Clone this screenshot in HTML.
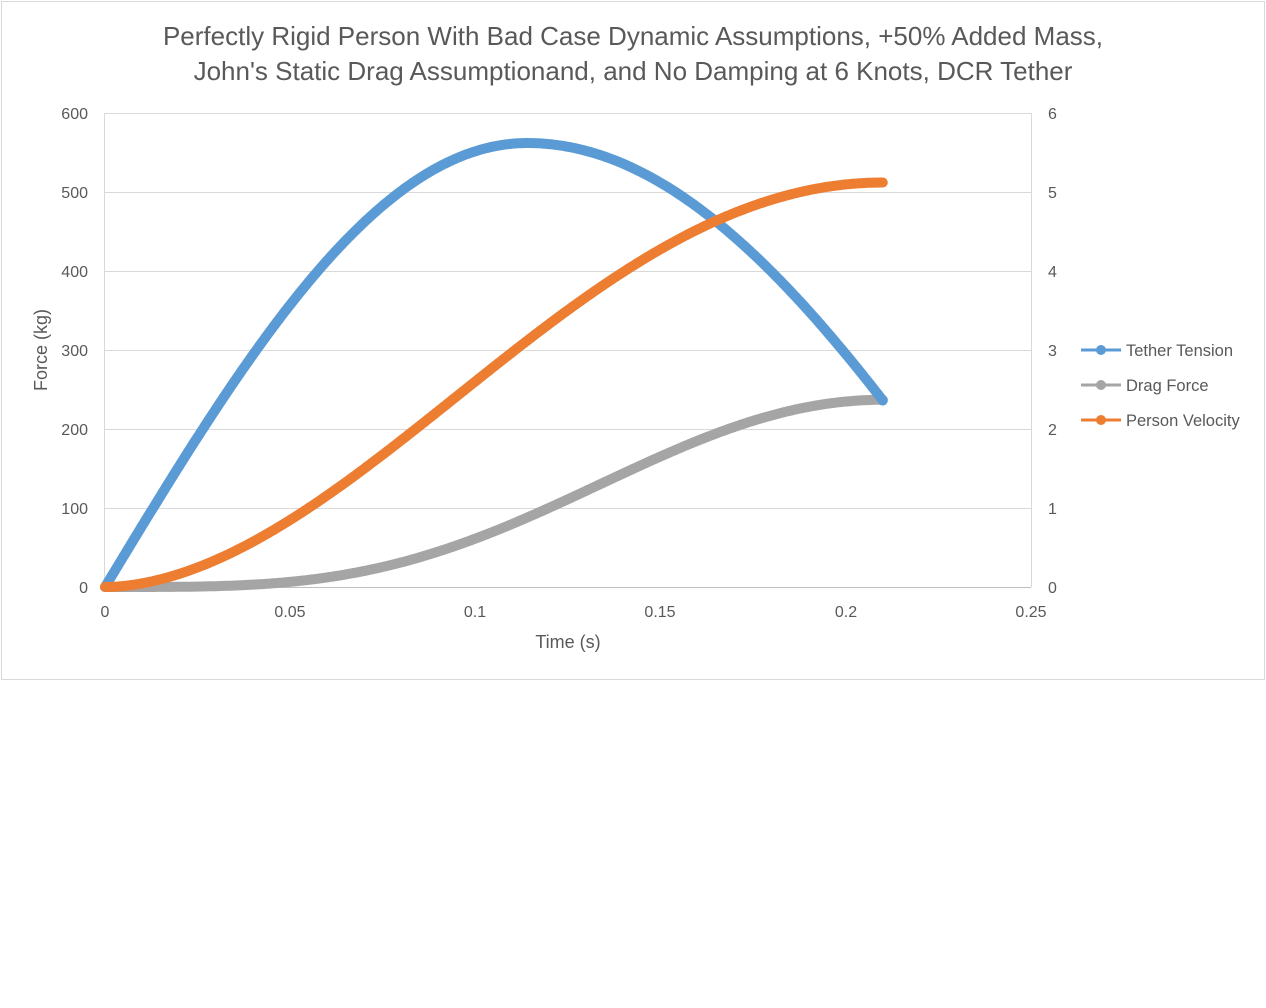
<!DOCTYPE html>
<html><head><meta charset="utf-8"><style>
html,body{margin:0;padding:0;background:#fff;width:1266px;height:1008px;overflow:hidden}
svg text{font-family:"Liberation Sans",sans-serif;fill:#595959}
</style></head><body>
<svg id="s" width="1266" height="1008" xmlns="http://www.w3.org/2000/svg">
<rect x="1.5" y="1.5" width="1263" height="678" fill="#fff" stroke="#d9d9d9"/>
<text x="633" y="45" font-size="26" text-anchor="middle">Perfectly Rigid Person With Bad Case Dynamic Assumptions, +50% Added Mass,</text>
<text x="633" y="80" font-size="26" text-anchor="middle">John's Static Drag Assumptionand, and No Damping at 6 Knots, DCR Tether</text>
<g stroke="#d9d9d9" stroke-width="1">
<line x1="105" y1="113.5" x2="1031" y2="113.5"/><line x1="105" y1="192.5" x2="1031" y2="192.5"/>
<line x1="105" y1="271.5" x2="1031" y2="271.5"/><line x1="105" y1="350.5" x2="1031" y2="350.5"/>
<line x1="105" y1="429.5" x2="1031" y2="429.5"/><line x1="105" y1="508.5" x2="1031" y2="508.5"/>
<line x1="104.5" y1="113" x2="104.5" y2="587"/><line x1="1031.5" y1="113" x2="1031.5" y2="587"/>
<line x1="105" y1="587.5" x2="1031" y2="587.5" stroke="#bfbfbf"/>
</g>
<g font-size="16" text-anchor="end">
<text x="88" y="119">600</text><text x="88" y="198">500</text><text x="88" y="277">400</text>
<text x="88" y="356">300</text><text x="88" y="435">200</text><text x="88" y="514">100</text><text x="88" y="593">0</text>
</g>
<g font-size="16" text-anchor="start">
<text x="1048" y="119">6</text><text x="1048" y="198">5</text><text x="1048" y="277">4</text>
<text x="1048" y="356">3</text><text x="1048" y="435">2</text><text x="1048" y="514">1</text><text x="1048" y="593">0</text>
</g>
<g font-size="16" text-anchor="middle">
<text x="105" y="617">0</text><text x="290" y="617">0.05</text><text x="475" y="617">0.1</text>
<text x="660" y="617">0.15</text><text x="846" y="617">0.2</text><text x="1031" y="617">0.25</text>
</g>
<text x="568" y="648" font-size="18" text-anchor="middle">Time (s)</text>
<text transform="translate(47,350) rotate(-90)" font-size="18" text-anchor="middle">Force (kg)</text>
<g id="series" fill="none" stroke-width="10" stroke-linecap="round" stroke-linejoin="round"></g>
<g font-size="16.5">
<line x1="1081" y1="350" x2="1121" y2="350" stroke="#5b9bd5" stroke-width="3"/><circle cx="1101" cy="350" r="5" fill="#5b9bd5"/>
<text x="1126" y="356">Tether Tension</text>
<line x1="1081" y1="385" x2="1121" y2="385" stroke="#a5a5a5" stroke-width="3"/><circle cx="1101" cy="385" r="5" fill="#a5a5a5"/>
<text x="1126" y="391">Drag Force</text>
<line x1="1081" y1="420" x2="1121" y2="420" stroke="#ed7d31" stroke-width="3"/><circle cx="1101" cy="420" r="5" fill="#ed7d31"/>
<text x="1126" y="426">Person Velocity</text>
</g>
</svg>
<script>
(function(){
var N=420;
function X(tt){return 105+tt/0.25*926;}
function Y(f){return 587-f*0.79;}
var pb="",po="",pg="";
for(var i=0;i<=N;i++){var tt=0.21*i/N;var c=i?"L":"M";var x=X(tt).toFixed(1);
var T=tt<=0.114?562*Math.sin(Math.PI/2*tt/0.114):562*Math.cos(Math.PI/2*(tt-0.114)/0.1326);
var u=Math.pow(tt/0.21,0.92);
var r=(1-Math.cos(Math.PI*u))/2;
pb+=c+x+" "+Y(T).toFixed(1);
po+=c+x+" "+Y(512*r).toFixed(1);
pg+=c+x+" "+Y(237*r*r).toFixed(1);}
var g=document.getElementById("series");
g.innerHTML='<path d="'+pg+'" stroke="#a5a5a5"/><path d="'+pb+'" stroke="#5b9bd5"/><path d="'+po+'" stroke="#ed7d31"/>';
})();
</script>
</body></html>
